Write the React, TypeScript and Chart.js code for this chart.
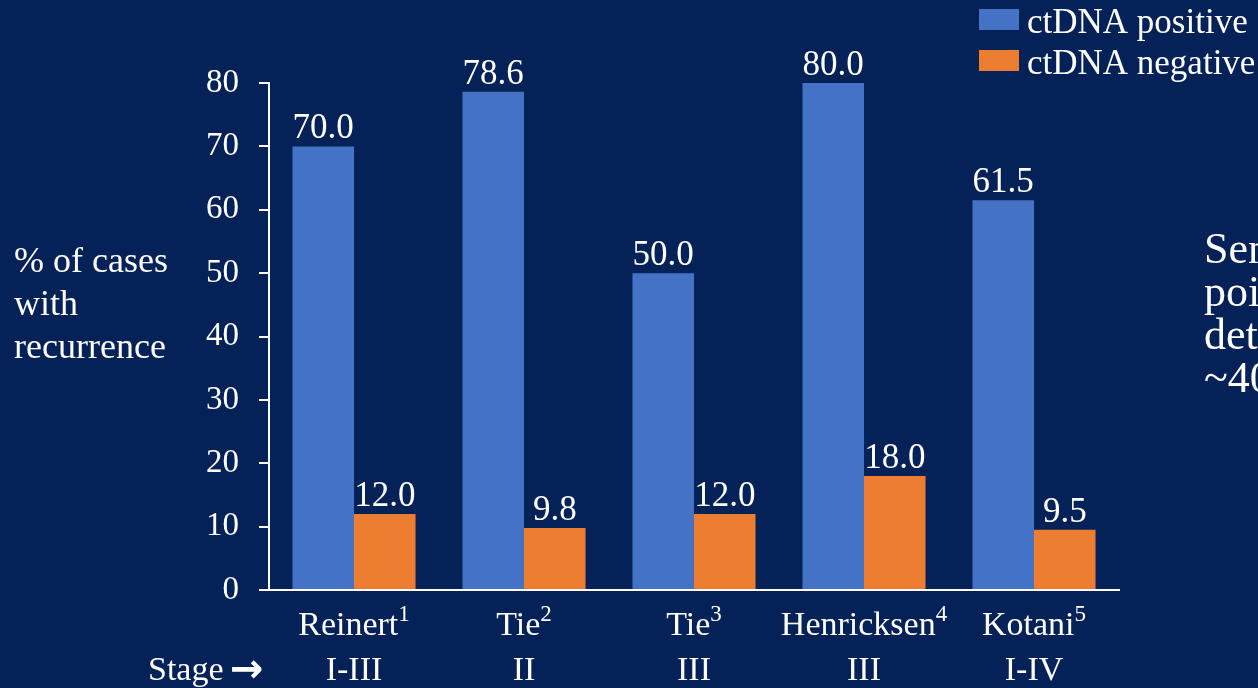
import React, { useEffect, useRef } from "react";
import { Chart, registerables } from "chart.js";

Chart.register(...registerables);

const categories = ["Reinert", "Tie", "Tie", "Henricksen", "Kotani"];
const refNumbers = ["1", "2", "3", "4", "5"];
const stages = ["I-III", "II", "III", "III", "I-IV"];
const positiveValues = [70.0, 78.6, 50.0, 80.0, 61.5];
const negativeValues = [12.0, 9.8, 12.0, 18.0, 9.5];
const seriesNames = ["ctDNA positive", "ctDNA negative"];
const yTitleLines = ["% of cases", "with", "recurrence"];
const stageLabel = "Stage";
const sideNoteLines = ["Sensitivity of single time", "point ctDNA", "detection", "~40%"];

const BG = "#042257";
const BLUE = "#4472C4";
const ORANGE = "#ED7D31";
const SERIF = '"Liberation Serif", "Times New Roman", serif';

const W = 1258;
const H = 688;

const overlayPlugin = {
  id: "overlay",
  beforeDraw(chart: any) {
    const ctx = chart.ctx;
    ctx.save();
    ctx.fillStyle = BG;
    ctx.fillRect(0, 0, chart.width, chart.height);
    ctx.restore();
  },
  afterDraw(chart: any) {
    const ctx = chart.ctx;
    ctx.save();
    ctx.fillStyle = "#ffffff";
    ctx.textBaseline = "alphabetic";

    // data labels
    ctx.font = `35px ${SERIF}`;
    ctx.textAlign = "center";
    chart.data.datasets.forEach((ds: any, di: number) => {
      const meta = chart.getDatasetMeta(di);
      meta.data.forEach((bar: any, i: number) => {
        const v = ds.data[i] as number;
        ctx.fillText(v.toFixed(1), bar.x, bar.y - 8);
      });
    });

    // category labels with superscripts
    const xScale = chart.scales.x;
    categories.forEach((name, i) => {
      const cx = xScale.getPixelForValue(i);
      ctx.font = `34px ${SERIF}`;
      const mw = ctx.measureText(name).width;
      ctx.font = `23px ${SERIF}`;
      const sw = ctx.measureText(refNumbers[i]).width;
      const start = cx - (mw + sw) / 2;
      ctx.textAlign = "left";
      ctx.font = `34px ${SERIF}`;
      ctx.fillText(name, start, 635);
      ctx.font = `23px ${SERIF}`;
      ctx.fillText(refNumbers[i], start + mw, 621);
      ctx.font = `34px ${SERIF}`;
      ctx.textAlign = "center";
      ctx.fillText(stages[i], cx, 680);
    });

    // Stage arrow
    ctx.textAlign = "left";
    ctx.font = `34px ${SERIF}`;
    ctx.fillText(stageLabel, 148, 680);
    const sw2 = ctx.measureText(stageLabel + " ").width;
    ctx.font = `bold 40px "DejaVu Sans", sans-serif`;
    ctx.fillText("\u2192", 148 + sw2 - 2, 682);

    // y title
    ctx.font = `36px ${SERIF}`;
    yTitleLines.forEach((t, i) => ctx.fillText(t, 14, 272 + i * 43));

    // side note (clipped by canvas edge)
    ctx.font = `44px ${SERIF}`;
    sideNoteLines.forEach((t, i) => ctx.fillText(t, 1204, 263 + i * 43));

    // legend
    const legendColors = [BLUE, ORANGE];
    seriesNames.forEach((n, i) => {
      ctx.fillStyle = legendColors[i];
      ctx.fillRect(979, 9 + i * 41, 40, 21);
      ctx.fillStyle = "#ffffff";
      ctx.font = `35px ${SERIF}`;
      ctx.fillText(n, 1027, 33 + i * 41);
    });

    ctx.restore();
  },
};

export default function App() {
  const ref = useRef<HTMLCanvasElement | null>(null);

  useEffect(() => {
    document.body.style.margin = "0";
    const canvas = ref.current;
    if (!canvas) return;
    const chart = new Chart(canvas, {
      type: "bar",
      data: {
        labels: categories,
        datasets: [
          {
            label: seriesNames[0],
            data: positiveValues,
            backgroundColor: BLUE,
            borderWidth: 0,
            categoryPercentage: 0.724,
            barPercentage: 1,
          },
          {
            label: seriesNames[1],
            data: negativeValues,
            backgroundColor: ORANGE,
            borderWidth: 0,
            categoryPercentage: 0.724,
            barPercentage: 1,
          },
        ],
      },
      options: {
        responsive: false,
        animation: false,
        devicePixelRatio: 1,
        layout: { padding: { top: 83, right: 139, left: 0, bottom: 0 } },
        plugins: {
          legend: { display: false },
          tooltip: { enabled: false },
          title: { display: false },
        },
        scales: {
          x: {
            grid: { display: false, drawTicks: false },
            border: { display: true, color: "#ffffff", width: 2 },
            ticks: { display: false },
            afterFit: (s: any) => {
              s.height = 98;
            },
          },
          y: {
            min: 0,
            max: 80,
            ticks: {
              stepSize: 10,
              color: "#ffffff",
              padding: 20,
              font: { family: SERIF, size: 33 },
            },
            grid: {
              drawOnChartArea: false,
              drawTicks: true,
              tickLength: 10,
              color: "#ffffff",
              lineWidth: 2,
            },
            border: { display: true, color: "#ffffff", width: 2 },
            afterFit: (s: any) => {
              s.width = 269;
            },
          },
        },
      },
      plugins: [overlayPlugin],
    });
    return () => chart.destroy();
  }, []);

  return (
    <div style={{ position: "absolute", left: 0, top: 0, width: W, height: H, background: BG }}>
      <canvas ref={ref} width={W} height={H} style={{ display: "block", width: W, height: H }} />
    </div>
  );
}
